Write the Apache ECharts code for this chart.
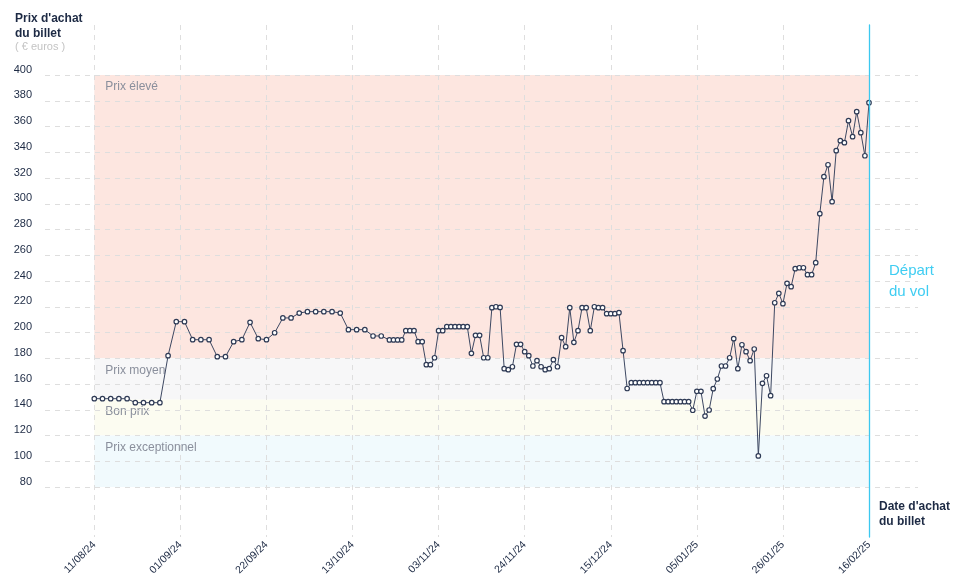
<!DOCTYPE html>
<html>
<head>
<meta charset="utf-8">
<script src="https://cdn.jsdelivr.net/npm/echarts@6/dist/echarts.min.js"></script>
<style>
html,body{margin:0;padding:0;background:#fff;}
#chart{width:958px;height:585px;}
</style>
</head>
<body>
<div id="chart"></div>
<script>
// Days since 11/08/24 (purchase date)
const dayOffsets = [
  0,2,4,6,8,10,12,14,16,18,20,22,24,26,28,30,32,34,36,38,40,42,44,46,48,50,52,54,56,58,60,62,64,66,68,70,72,
  73,74,75,76,77,78,79,80,81,82,83,84,85,86,87,88,89,90,91,92,93,94,95,96,97,98,99,100,
  101,102,103,104,105,106,107,108,109,110,111,112,113,114,115,116,117,118,119,120,
  121,122,123,124,125,126,127,128,129,130,131,132,133,134,135,136,137,138,139,140,
  141,142,143,144,145,146,147,148,149,150,151,152,153,154,155,156,157,158,159,160,
  161,162,163,164,165,166,167,168,169,170,171,172,173,174,175,176,177,178,179,180,
  181,182,183,184,185,186,187,188,189
];
const prices = [
  148.6,148.6,148.6,148.6,148.6,145.5,145.5,145.5,145.5,182,208.4,208.4,194.4,194.4,194.4,181.2,181.2,192.9,194.4,207.9,195.2,194.4,199.8,211.3,211.3,215.1,216.2,216.2,216.2,216.2,215.1,202.2,202.2,202.2,197.3,197.3,194.2,
  194.2,194.2,194.2,201.4,201.4,201.4,192.9,192.9,175,175,180.4,201.4,201.4,204.5,204.5,204.5,204.5,204.5,204.5,183.8,197.8,197.8,180.4,180.4,219.3,220,219.5,171.9,
  171.1,173.4,190.8,190.8,185.1,182,174,178.1,173.4,171.1,171.9,178.9,173.4,196,189,219.3,192.4,201.4,219.3,219.3,
  201.4,220,219.3,219.3,214.6,214.6,214.6,215.4,185.9,156.5,161,161,161,161,161,161,161,161,146.3,146.3,
  146.3,146.3,146.3,146.3,146.3,139.6,154.3,154.3,135.1,139.8,156.4,163.9,174,174,180.4,195.2,171.9,190.5,185.1,178.1,
  187.2,104.1,160.5,166.4,150.9,223.1,230.4,222.4,238.2,235.6,249.6,250.3,250.3,244.9,244.9,254.2,292.3,321,330.3,301.6,
  341.2,349,347.4,364.5,352.1,371.5,355.2,337.3,378.5
];
const xTickLabels = ['11/08/24','01/09/24','22/09/24','13/10/24','03/11/24','24/11/24','15/12/24','05/01/25','26/01/25','16/02/25'];
const bandNames = ['Prix élevé','Prix moyen','Bon prix','Prix exceptionnel'];
const bandLow = [180,148,120,80];
const bandHigh = [400,180,148,120];
const bandColors = ['#fde6e0','#f7f7f8','#fcfcf1','#f1fafd'];

const FONT = '"Liberation Sans", Arial, sans-serif';
const DARK = '#1d2a44';

const chart = echarts.init(document.getElementById('chart'), null, {renderer: 'canvas'});

const seriesData = dayOffsets.map((d, i) => [d, prices[i]]);
const bandData = bandNames.map((n, i) => [
  {name: n, yAxis: bandHigh[i], itemStyle: {color: bandColors[i]}},
  {yAxis: bandLow[i]}
]);

const option = {
  animation: false,
  backgroundColor: '#ffffff',
  textStyle: {fontFamily: FONT},
  grid: [
    {left: 94.3, right: 89, top: 75, bottom: 98},
    {left: 45, right: 40, top: 75, bottom: 98},
    {left: 94.3, right: 89, top: 25, bottom: 48}
  ],
  xAxis: [
    {gridIndex: 0, type: 'value', min: 0, max: 189, show: false},
    {gridIndex: 1, type: 'value', min: 0, max: 1, show: false},
    {gridIndex: 2, type: 'value', min: 0, max: 189, interval: 21,
      axisLine: {show: false}, axisTick: {show: false},
      splitLine: {show: true, showMaxLine: false, lineStyle: {color: '#dedede', type: [5, 5], width: 1}},
      axisLabel: {rotate: 45, margin: 6, fontSize: 10.5, color: DARK, fontFamily: FONT,
        formatter: v => xTickLabels[Math.round(v / 21)] || ''}
    }
  ],
  yAxis: [
    {gridIndex: 0, type: 'value', min: 80, max: 400, show: false},
    {gridIndex: 1, type: 'value', min: 80, max: 400, interval: 20,
      axisLine: {show: false}, axisTick: {show: false},
      splitLine: {show: true, lineStyle: {color: '#dedede', type: [5, 5], width: 1}},
      axisLabel: {margin: 13, fontSize: 11, color: DARK, fontFamily: FONT, verticalAlign: 'bottom', align: 'right'}
    },
    {gridIndex: 2, type: 'value', min: 0, max: 1, position: 'right', z: 10,
      axisLine: {show: true, onZero: false, lineStyle: {color: '#3cc8f0', width: 1.3}},
      axisTick: {show: false}, axisLabel: {show: false}, splitLine: {show: false}
    }
  ],
  series: [
    {
      name: 'bands', type: 'line', xAxisIndex: 0, yAxisIndex: 0, data: [], z: -5, silent: true,
      markArea: {
        silent: true, z: -1,
        label: {show: true, position: 'insideTopLeft', distance: 6, offset: [5, 0],
          color: '#8a8f9c', fontSize: 12, fontFamily: FONT},
        data: bandData
      }
    },
    {
      name: 'Prix', type: 'line', xAxisIndex: 0, yAxisIndex: 0, z: 5,
      data: seriesData,
      showSymbol: true, showAllSymbol: true, symbol: 'circle', symbolSize: 4.5,
      lineStyle: {color: '#3d4862', width: 1},
      itemStyle: {color: '#ffffff', borderColor: '#2e3a55', borderWidth: 1.2}
    }
  ],
  graphic: [
    {type: 'text', left: 15, top: 11, style: {text: "Prix d'achat\ndu billet", font: 'bold 12px ' + FONT, fill: DARK, lineHeight: 15}},
    {type: 'text', left: 15, top: 41, style: {text: '( € euros )', font: '11px ' + FONT, fill: '#c4c4c4'}},
    {type: 'text', left: 879, top: 499, style: {text: "Date d'achat\ndu billet", font: 'bold 12px ' + FONT, fill: DARK, lineHeight: 15}},
    {type: 'text', left: 889, top: 260, style: {text: 'Départ\ndu vol', font: '15px ' + FONT, fill: '#3fcdf2', lineHeight: 21}}
  ]
};
chart.setOption(option);
</script>
</body>
</html>
